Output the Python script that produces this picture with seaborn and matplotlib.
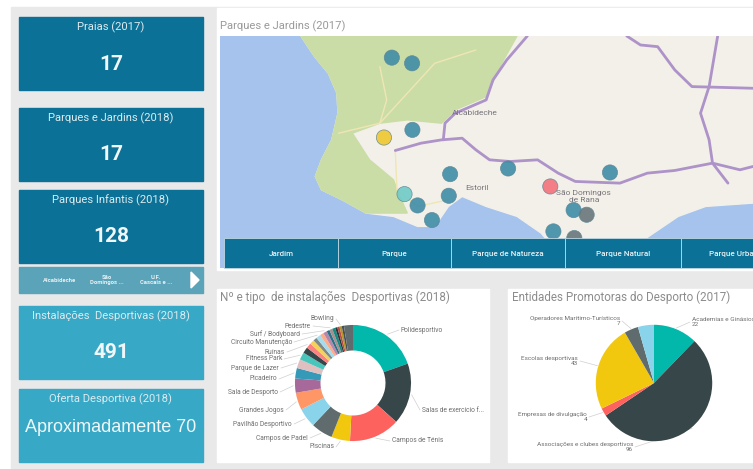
import numpy as np
import pandas as pd
import seaborn as sns
import matplotlib
matplotlib.use("Agg")
import matplotlib.pyplot as plt
from matplotlib.patches import Rectangle, Polygon

# cartoes da esquerda
card_titles = ["Praias (2017)", "Parques e Jardins (2018)", "Parques Infantis (2018)",
               "Instalações  Desportivas (2018)", "Oferta Desportiva (2018)"]
card_values = ["17", "17", "128", "491", "Aproximadamente 70"]
slicer_items = ["Alcabideche", "São\nDomingos ...", "U.F.\nCascais e ..."]
map_buttons = ["Jardim", "Parque", "Parque de Natureza", "Parque Natural", "Parque Urbano"]

# pontos do mapa (tipo define a cor)
map_x = [515, 574, 575, 492, 685, 854, 1151, 681, 552, 590, 632, 977, 1045, 1083, 986, 1047]
map_y = [173, 190, 390, 413, 523, 506, 518, 588, 583, 617, 661, 560, 631, 645, 695, 715]
map_tipo = ["Parque", "Parque", "Parque", "Jardim", "Parque", "Parque", "Parque", "Parque",
            "Natureza", "Parque", "Parque", "Natural", "Parque", "Urbano", "Parque", "Urbano"]

# instalacoes desportivas
inst_labels = ["Polidesportivo", "Salas de exercício f...", "Campos de Ténis", "Piscinas",
               "Campos de Padel", "Pavilhão Desportivo", "Grandes Jogos", "Sala de Desporto",
               "Picadeiro", "Parque de Lazer", "Fitness Park", "", "Ruínas", "", "",
               "Circuito Manutenção", "", "Surf / Bodyboard", "", "Pedestre", "", "", "", "Bowling", "", ""]
inst_values = [94, 82, 68, 25, 29, 26, 23, 19, 14, 12, 10, 8, 7, 6, 5, 6, 5, 5, 4, 4, 4, 3, 3, 3, 3, 12]

# entidades promotoras
ent_labels = ["Academias e Ginásios\n22", "Associações e clubes desportivos\n96",
              "Empresas de divulgação\n4", "Escolas desportivas\n43",
              "Operadores Marítimo-Turísticos\n7", ""]
ent_values = [22, 96, 4, 43, 7, 8]

palette = ["#01B8AA", "#374649", "#FD625E", "#F2C80F", "#5F6B6D", "#8AD4EB", "#FE9666", "#A66999",
           "#3599B8", "#DFBFBF", "#4AC5BB", "#374649", "#FB8281", "#F4D25A", "#7F898A", "#A4DDEE",
           "#FDAB89", "#B687AC", "#28738A", "#A78F8F", "#168980", "#293537", "#BB4A4A", "#B59525",
           "#475052", "#5F6B6D"]
ent_cores = ["#01B8AA", "#374649", "#FD625E", "#F2C80F", "#5F6B6D", "#8AD4EB"]
cores_tipo = {"Parque": "#3E8CA6", "Jardim": "#EFC72E", "Natureza": "#6FCBC8",
              "Natural": "#F4727A", "Urbano": "#69767A"}

# onde ficam as etiquetas (pixeis da imagem)
pos_inst = {"Polidesportivo": (401, 330), "Salas de exercício f...": (422, 410), "Campos de Ténis": (392, 441),
            "Piscinas": (334, 447), "Campos de Padel": (308, 438), "Pavilhão Desportivo": (292, 424),
            "Grandes Jogos": (284, 410), "Sala de Desporto": (278, 392), "Picadeiro": (277, 379),
            "Parque de Lazer": (279, 368), "Fitness Park": (282, 359), "Ruínas": (285, 352),
            "Circuito Manutenção": (292, 342), "Surf / Bodyboard": (300, 334), "Pedestre": (311, 326),
            "Bowling": (334, 319)}
pos_ent = [(692, 322), (633, 447), (587, 417), (578, 361), (620, 321)]

sns.set_theme(style="white")
plt.rcParams['font.family'] = ['Roboto', 'DejaVu Sans']

W, H = 753, 469
fig = plt.figure(figsize=(W / 100, H / 100), dpi=100, facecolor="white")


def eixo(x0, y0, x1, y1):
    # eixo a partir de pixeis da imagem
    ax = fig.add_axes([x0 / W, 1 - y1 / H, (x1 - x0) / W, (y1 - y0) / H])
    ax.axis("off")
    return ax


fundo = eixo(0, 0, W, H)
fundo.set_xlim(0, W)
fundo.set_ylim(H, 0)
fundo.add_patch(Rectangle((11, 7), W - 11, H - 7, color="#EAE9E9"))
fundo.add_patch(Rectangle((217, 8), W - 217, 262, color="white"))
fundo.add_patch(Rectangle((217, 289), 272, 173, color="white"))
fundo.add_patch(Rectangle((508, 289), W - 508, 173, color="white"))

# cartoes
card_y = [(17, 90), (108, 181), (190, 263), (306, 379), (389, 462)]
card_cor = ["#0B7196", "#0B7196", "#0B7196", "#37A8C6", "#37A8C6"]
for i in range(5):
    y0, y1 = card_y[i]
    fundo.add_patch(Rectangle((19, y0), 184, y1 - y0, color=card_cor[i]))
    fundo.text(111, y0 + 10, card_titles[i], color="#DCEBF0", fontsize=8.1, ha="center", va="center")
    tam = 13 if i == 4 else 15
    fam = "Liberation Sans" if i == 4 else "Roboto"
    fundo.text(111, y0 + (39 if i == 4 else 47), card_values[i], color="#F0F7F9", fontsize=tam,
               ha="center", va="center", family=fam, weight="normal" if i == 4 else "bold")

# segmentador
fundo.add_patch(Rectangle((19, 267), 184, 26, color="#5BA3B8"))
for x, s in zip([60, 107, 156], slicer_items):
    fundo.text(x, 280, s, color="#E8F1F4", fontsize=4.2, ha="center", va="center", weight="bold")
fundo.add_patch(Polygon([(191, 272), (199, 280), (191, 288)], color="white"))

# titulos
fundo.text(220, 26.5, "Parques e Jardins (2017)", color="#9A9A9A", fontsize=8.1, va="center")
fundo.text(220, 297, "Nº e tipo  de instalações  Desportivas (2018)", color="#8C8C8C", fontsize=8.4, va="center")
fundo.text(512, 297, "Entidades Promotoras do Desporto (2017)", color="#8C8C8C", fontsize=8.4, va="center")

# mapa
ax_map = eixo(220, 36, W, 268)
ax_map.set_xlim(14, 1568)
ax_map.set_ylim(805, 108)
ax_map.add_patch(Rectangle((14, 108), 1554, 697, color="#A5C3EC", zorder=0))
terra = [(250, 108), (290, 170), (330, 220), (355, 280), (358, 340), (340, 420), (310, 480), (292, 530),
         (310, 570), (370, 600), (440, 640), (520, 650), (590, 680), (640, 680), (680, 620), (720, 590),
         (790, 620), (880, 650), (950, 700), (1000, 760), (1100, 770), (1250, 720), (1350, 650),
         (1430, 620), (1568, 610), (1568, 108)]
verde = [(250, 108), (880, 108), (830, 200), (790, 290), (700, 330), (660, 370), (560, 360), (480, 370),
         (400, 400), (450, 480), (520, 540), (530, 570), (560, 640), (440, 640), (370, 600), (310, 570),
         (292, 530), (310, 480), (340, 420), (358, 340), (355, 280), (330, 220), (290, 170)]
ax_map.add_patch(Polygon(terra, color="#F3F0EA", zorder=1))
ax_map.add_patch(Polygon(verde, color="#CBDDA6", zorder=2))
secundarias = [
    [(360, 400), (480, 370), (560, 280), (640, 190), (760, 150)],
    [(525, 452), (530, 570), (590, 620), (680, 600)],
    [(480, 200), (500, 300), (480, 370)],
]
for e in secundarias:
    ax_map.plot(*zip(*e), color="#EFE6B4", lw=1, zorder=3)
estradas = [
    [(525, 452), (600, 430), (660, 420), (720, 415), (760, 450), (800, 480), (860, 485), (940, 480),
     (1000, 520), (1050, 545), (1180, 550), (1260, 520), (1340, 512), (1450, 490), (1530, 510), (1568, 500)],
    [(910, 108), (850, 180), (810, 240), (790, 300), (700, 340), (670, 370), (665, 420)],
    [(1200, 108), (1240, 135), (1290, 140), (1340, 210), (1390, 260), (1568, 265)],
    [(1465, 108), (1440, 260), (1415, 340), (1440, 420), (1450, 490), (1495, 550)],
]
for e in estradas:
    ax_map.plot(*zip(*e), color="#AD93C8", lw=2, zorder=3)
for x, y, s in [(756, 340, "Alcabideche"), (762, 564, "Estoril"), (1075, 590, "São Domingos\nde Rana")]:
    ax_map.text(x, y, s, color="#77757A", fontsize=6, ha="center", va="center", zorder=4)

df_map = pd.DataFrame({"x": map_x, "y": map_y, "tipo": map_tipo})
sns.scatterplot(data=df_map, x="x", y="y", hue="tipo", palette=cores_tipo, s=120, alpha=0.9,
                edgecolor="#5E8796", linewidth=0.5, legend=False, ax=ax_map, zorder=5)
ax_map.set_xlabel("")
ax_map.set_ylabel("")
ax_map.set_xlim(14, 1568)
ax_map.set_ylim(805, 108)

# botoes por cima do mapa
topo = eixo(0, 0, W, H)
topo.set_xlim(0, W)
topo.set_ylim(H, 0)
bx = [224, 338, 451, 565, 681, 790]
for i in range(5):
    topo.add_patch(Rectangle((bx[i], 238), bx[i + 1] - bx[i], 30, facecolor="#0B7196",
                             edgecolor="#BFD8E2", lw=0.6))
    xc = (bx[i] + bx[i + 1]) / 2
    topo.text(xc, 254, map_buttons[i], color="#E8F1F4", fontsize=5.8, ha="center", va="center",
              weight="medium", clip_on=True)

# rosca
cx, cy, r = 353, 383, 58
ax_d = eixo(223, 313, 483, 453)
ax_d.pie(inst_values, colors=palette, startangle=90, counterclock=False, radius=1,
         wedgeprops={"width": 0.44, "linewidth": 0})
ax_d.set_aspect("equal")
ax_d.set_xlim(-2.24, 2.24)
ax_d.set_ylim(-1.2, 1.2)
ang = np.cumsum([0] + inst_values[:-1]) + np.array(inst_values) / 2
ang = ang / sum(inst_values) * 2 * np.pi
for i, s in enumerate(inst_labels):
    if s == "":
        continue
    xa, ya = np.sin(ang[i]), np.cos(ang[i])
    xt, yt = pos_inst[s]
    lado = 1 if xa > 0 else -1
    topo.plot([cx + xa * r * 1.03, xt - lado * 2], [cy - ya * r * 1.03, yt], color="#CFCFCF", lw=0.5)
    topo.text(xt, yt, s, color="#6E6E6E", fontsize=4.8,
              ha="left" if lado > 0 else "right", va="center")

# pizza
cx, cy, r = 654, 383, 58
ax_p = eixo(516, 313, 792, 453)
ax_p.pie(ent_values, colors=ent_cores, startangle=90, counterclock=False, radius=1,
         wedgeprops={"linewidth": 0})
ax_p.set_aspect("equal")
ax_p.set_xlim(-2.37, 2.37)
ax_p.set_ylim(-1.2, 1.2)
ang = np.cumsum([0] + ent_values[:-1]) + np.array(ent_values) / 2
ang = ang / sum(ent_values) * 2 * np.pi
for i, s in enumerate(ent_labels):
    if s == "":
        continue
    xa, ya = np.sin(ang[i]), np.cos(ang[i])
    xt, yt = pos_ent[i]
    lado = 1 if i == 0 else -1
    topo.plot([cx + xa * r * 1.02, xt - lado * 2], [cy - ya * r * 1.02, yt], color="#CFCFCF", lw=0.5)
    topo.text(xt, yt, s, color="#6E6E6E", fontsize=4.6, linespacing=1.1,
              ha="left" if lado > 0 else "right", va="center", multialignment="left" if lado > 0 else "right",
              clip_on=True)

topo.set_xlim(0, W)
topo.set_ylim(H, 0)
fig.savefig("out.png", dpi=100, facecolor=fig.get_facecolor())
